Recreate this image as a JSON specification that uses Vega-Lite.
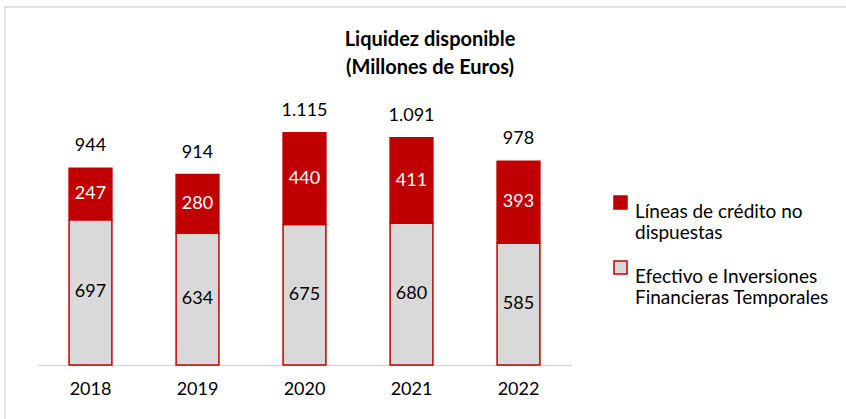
{
  "$schema": "https://vega.github.io/schema/vega-lite/v6.json",
  "width": 850,
  "height": 420,
  "autosize": {"type": "none"},
  "padding": {"left": 5, "top": 7, "right": 0, "bottom": 0},
  "background": "white",
  "config": {
    "font": "Lato",
    "view": {"stroke": "#D9D9D9", "strokeWidth": 1.5},
    "locale": {"number": {"decimal": ",", "thousands": ".", "grouping": [3], "currency": ["", " €"]}}
  },
  "title": {
    "text": ["Liquidez disponible", "(Millones de Euros)"],
    "font": "Lato",
    "fontSize": 20,
    "fontWeight": "bold",
    "color": "#000000",
    "anchor": "middle",
    "orient": "top",
    "baseline": "top",
    "offset": -71,
    "lineHeight": 28
  },
  "data": {
    "values": [
      {"anio": "2018", "serie": "Efectivo e Inversiones Financieras Temporales", "valor": 697},
      {"anio": "2018", "serie": "Líneas de crédito no dispuestas", "valor": 247},
      {"anio": "2019", "serie": "Efectivo e Inversiones Financieras Temporales", "valor": 634},
      {"anio": "2019", "serie": "Líneas de crédito no dispuestas", "valor": 280},
      {"anio": "2020", "serie": "Efectivo e Inversiones Financieras Temporales", "valor": 675},
      {"anio": "2020", "serie": "Líneas de crédito no dispuestas", "valor": 440},
      {"anio": "2021", "serie": "Efectivo e Inversiones Financieras Temporales", "valor": 680},
      {"anio": "2021", "serie": "Líneas de crédito no dispuestas", "valor": 411},
      {"anio": "2022", "serie": "Efectivo e Inversiones Financieras Temporales", "valor": 585},
      {"anio": "2022", "serie": "Líneas de crédito no dispuestas", "valor": 393}
    ]
  },
  "encoding": {
    "x": {
      "field": "anio",
      "type": "nominal",
      "scale": {"range": [32, 567], "paddingInner": 0.6, "paddingOuter": 0.3},
      "axis": {
        "title": null,
        "orient": "bottom",
        "offset": -62,
        "labelAngle": 0,
        "labelFontSize": 18,
        "labelColor": "#000000",
        "labelPadding": 15,
        "ticks": false,
        "domainColor": "#D9D9D9",
        "domainWidth": 1.5
      }
    }
  },
  "layer": [
    {
      "mark": {"type": "bar", "stroke": "#C00000", "strokeWidth": 1.5},
      "encoding": {
        "y": {
          "field": "valor",
          "type": "quantitative",
          "stack": "zero",
          "scale": {"domain": [0, 1200], "range": [358, 108], "nice": false, "zero": true},
          "axis": null
        },
        "order": {"field": "serie", "sort": "ascending"},
        "color": {
          "field": "serie",
          "type": "nominal",
          "scale": {
            "domain": ["Líneas de crédito no dispuestas", "Efectivo e Inversiones Financieras Temporales"],
            "range": ["#C00000", "#D9D9D9"]
          },
          "legend": {
            "title": null,
            "orient": "none",
            "legendX": 606,
            "legendY": 186,
            "symbolType": "square",
            "symbolSize": 170,
            "symbolStrokeColor": "#C00000",
            "symbolStrokeWidth": 1.5,
            "labelFont": "Lato",
            "labelFontSize": 19,
            "labelColor": "#000000",
            "labelOffset": 5,
            "labelLimit": 300,
            "rowPadding": 14,
            "labelBaseline": "top",
            "labelLineHeight": 25,
            "labelExpr": "datum.label == 'Líneas de crédito no dispuestas' ? ['Líneas de crédito no', 'dispuestas'] : ['Efectivo e Inversiones', 'Financieras Temporales']"
          }
        }
      }
    },
    {
      "transform": [
        {"stack": "valor", "groupby": ["anio"], "sort": [{"field": "serie", "order": "ascending"}], "as": ["v0", "v1"]},
        {"calculate": "(datum.v0 + datum.v1) / 2", "as": "mid"},
        {"filter": "datum.serie == 'Líneas de crédito no dispuestas'"}
      ],
      "mark": {"type": "text", "fontSize": 18, "color": "#FFFFFF", "baseline": "middle"},
      "encoding": {
        "y": {"field": "mid", "type": "quantitative"},
        "text": {"field": "valor", "type": "quantitative", "format": ",d"}
      }
    },
    {
      "transform": [
        {"stack": "valor", "groupby": ["anio"], "sort": [{"field": "serie", "order": "ascending"}], "as": ["v0", "v1"]},
        {"calculate": "(datum.v0 + datum.v1) / 2", "as": "mid"},
        {"filter": "datum.serie == 'Efectivo e Inversiones Financieras Temporales'"}
      ],
      "mark": {"type": "text", "fontSize": 18, "color": "#000000", "baseline": "middle"},
      "encoding": {
        "y": {"field": "mid", "type": "quantitative"},
        "text": {"field": "valor", "type": "quantitative", "format": ",d"}
      }
    },
    {
      "transform": [
        {"aggregate": [{"op": "sum", "field": "valor", "as": "total"}], "groupby": ["anio"]}
      ],
      "mark": {"type": "text", "fontSize": 18, "color": "#000000", "baseline": "alphabetic", "dy": -17},
      "encoding": {
        "y": {"field": "total", "type": "quantitative"},
        "text": {"field": "total", "type": "quantitative", "format": ",d"}
      }
    }
  ]
}
